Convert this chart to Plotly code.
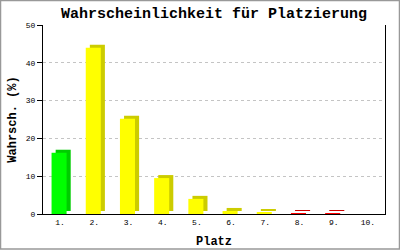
import plotly.graph_objects as go

places = [1, 2, 3, 4, 5, 6, 7, 8, 9, 10]
place_labels = ["1.", "2.", "3.", "4.", "5.", "6.", "7.", "8.", "9.", "10."]
probabilities = [16.2, 44.0, 25.2, 9.5, 4.0, 0.8, 0.3, 0.2, 0.2, 0.0]
y_ticks = [0, 10, 20, 30, 40, 50]

front_colors = ["#00ff00"] + ["#ffff00"] * 6 + ["#ff0000"] * 2 + ["#ffff00"]
side_colors = ["#00cc00"] + ["#cccc00"] * 6 + ["#cc0000"] * 2 + ["#cccc00"]

# plot area geometry (pixels)
L, R, T, B = 43, 15, 25, 36
W, H = 400, 250
pw, ph = W - L - R, H - T - B

depth_y = 0.8  # data units of 3D depth (vertical)
bar_w = 0.44

fig = go.Figure()
fig.add_trace(go.Bar(
    x=places, y=probabilities, base=[depth_y if v > 0 else 0 for v in probabilities],
    width=bar_w, offset=-0.25 + 0.12,
    marker=dict(color=side_colors, line=dict(width=0)),
    hoverinfo="skip", showlegend=False,
))
fig.add_trace(go.Bar(
    x=places, y=probabilities,
    width=bar_w, offset=-0.25,
    marker=dict(color=front_colors, line=dict(width=0)),
    showlegend=False,
))

mono = "Liberation Mono, DejaVu Sans Mono, monospace"

fig.update_layout(
    width=W, height=H,
    margin=dict(l=L, r=R, t=T, b=B, pad=0, autoexpand=False),
    paper_bgcolor="white", plot_bgcolor="white",
    barmode="overlay",
    title=dict(text="<b>Wahrscheinlichkeit für Platzierung</b>",
               x=0.5, xref="paper", xanchor="center",
               y=1 - 13 / H, yref="container", yanchor="middle",
               font=dict(family=mono, size=15, color="black")),
    xaxis=dict(
        range=[0.5, 10.5], tickmode="array", tickvals=places, ticktext=place_labels,
        showgrid=False, zeroline=False, showline=True, linecolor="black", linewidth=1,
        ticks="", tickfont=dict(family=mono, size=8, color="black"), automargin=False,
        title=dict(text="<b>Platz</b>", font=dict(family=mono, size=12, color="black"), standoff=11),
        fixedrange=True,
    ),
    yaxis=dict(
        range=[0, 50], tickmode="array", tickvals=y_ticks,
        showgrid=True, gridcolor="#c4c4c4", griddash="3px,3px", gridwidth=1,
        zeroline=False, showline=True, linecolor="black", linewidth=1, mirror=True,
        ticks="outside", ticklen=5, tickcolor="black", tickwidth=1, automargin=False,
        tickfont=dict(family=mono, size=8, color="black"),
        title=dict(text="<b>Wahrsch. (%)</b>", font=dict(family=mono, size=12, color="black"), standoff=6),
        fixedrange=True,
    ),
)

# outer frame of the image
fig.add_shape(type="rect", xref="paper", yref="paper",
              x0=(0.5 - L) / pw, x1=(W - 0.5 - L) / pw,
              y0=(T + ph - (H - 1)) / ph, y1=(T + ph - 0.5) / ph,
              line=dict(color="#999999", width=1.5), fillcolor="rgba(0,0,0,0)", layer="above")

fig.write_html("out.html")
